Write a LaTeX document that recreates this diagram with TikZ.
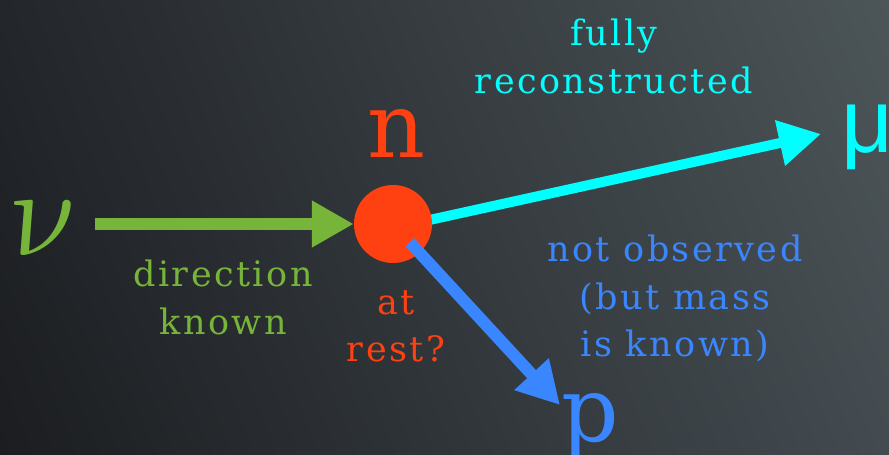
\documentclass[tikz,border=0pt]{standalone}
\usepackage{fontspec}
\setmainfont{DejaVu Serif}
\newfontfamily\lblfont{DejaVu Serif}[LetterSpace=7]
\newfontfamily\mufont{Liberation Sans}
\usetikzlibrary{arrows.meta,calc,shadings}
\definecolor{nugreen}{RGB}{118,181,58}
\definecolor{nred}{RGB}{255,64,16}
\definecolor{mucyan}{RGB}{0,255,255}
\definecolor{pblue}{RGB}{58,134,255}
\definecolor{bgul}{RGB}{35,38,43}
\definecolor{bgur}{RGB}{76,85,88}
\definecolor{bgll}{RGB}{27,29,32}
\definecolor{bglr}{RGB}{67,75,80}
\pgfdeclarelayer{under}
\pgfsetlayers{under,main}
\begin{document}
\begin{tikzpicture}[x=1pt,y=-1pt,
  lbl/.style={inner sep=0pt, align=center, font=\lblfont\fontsize{35}{47.5}\selectfont},
  big/.style={inner sep=0pt, font=\fontsize{90}{90}\selectfont},
  arr/.style={line width=#1, -{Triangle[length=42pt,width=44pt]}}]
\useasboundingbox (0,0) rectangle (889,455);
\begin{pgfonlayer}{under}
\shade[upper left=bgul, upper right=bgur, lower left=bgll, lower right=bglr] (0,0) rectangle (889,455);
\end{pgfonlayer}
% particles
\node[circle, fill=nred, minimum size=78pt, inner sep=0pt] (n0) at (393,224) {};
\node[big, text=nred, anchor=base] (nlab) at (396,157) {n};
\node[inner sep=0pt, xslant=-0.17, scale=12.5, text=nugreen, anchor=base west] (nu) at (12,255) {$\nu$};
\node[inner sep=0pt, font=\mufont\fontsize{90}{90}\selectfont, text=mucyan, anchor=base west] (mu) at (841,152) {μ};
\node[big, text=pblue, anchor=base west] (p) at (561,441) {p};
% connectors
\coordinate (gstart) at (95,224);
\coordinate (mutip) at (821,134);
\coordinate (ptip) at (560,405);
\draw[arr=12pt, nugreen] (gstart) -- (n0.west);
\begin{pgfonlayer}{under}
\draw[arr=10pt, mucyan] ([yshift=-4pt]n0.center) -- (mutip);
\end{pgfonlayer}
\draw[arr=12pt, pblue, shorten <=25pt] (n0.center) -- (ptip);
% labels
\node[lbl, text=nugreen, anchor=north] (dir) at (223,260) {direction\\known};
\node[lbl, text=nred, anchor=north] (rest) at (396,290) {at\\rest?};
\node[lbl, text=pblue, anchor=north] (obs) at (675,235) {not observed\\(but mass\\is known)};
\node[lbl, text=mucyan, anchor=north] (full) at (614,19) {fully\\reconstructed};
\end{tikzpicture}
\end{document}
